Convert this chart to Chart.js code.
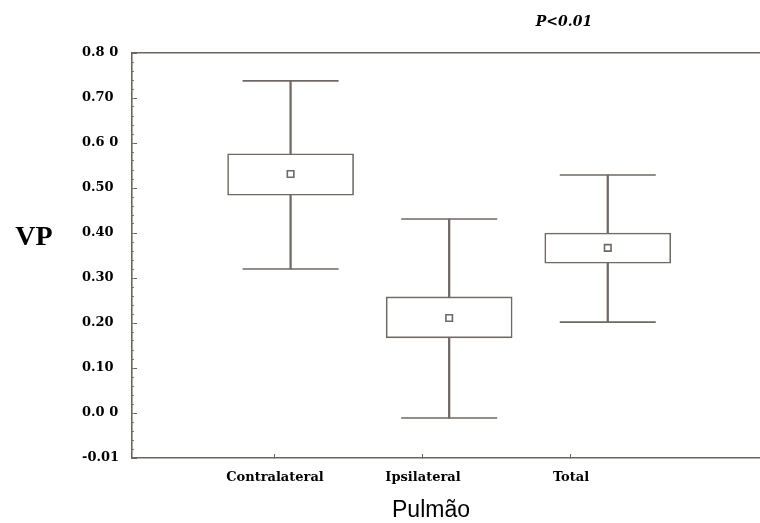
<!DOCTYPE html>
<html>
<head>
<meta charset="utf-8">
<script src="https://cdn.jsdelivr.net/npm/chart.js@4.4.0/dist/chart.umd.min.js"></script>
<style>
  html, body { margin: 0; padding: 0; background: #fff; }
  #wrap { position: relative; width: 760px; height: 523px; }
  .lbl { position: absolute; line-height: 1; white-space: nowrap; transform: translate(-50%, -50%); color: #000; }
  #vp { left: 34px; top: 236px; font: bold 28px 'Liberation Serif', serif; }
  #pval { left: 564px; top: 21px; font: italic bold 14px 'DejaVu Serif', serif; }
  #xtitle { left: 431px; top: 509px; font: 23px 'Liberation Sans', sans-serif; }
</style>
</head>
<body>
<div id="wrap">
  <canvas id="chart" width="760" height="523"></canvas>
  <div class="lbl" id="vp">VP</div>
  <div class="lbl" id="pval">P&lt;0.01</div>
  <div class="lbl" id="xtitle">Pulmão</div>
</div>
<script>
const categories = ['Contralateral', 'Ipsilateral', 'Total'];
const whiskerMax = [0.738, 0.431, 0.529];
const boxTop = [0.576, 0.258, 0.400];
const means = [0.531, 0.211, 0.367];
const boxBottom = [0.484, 0.167, 0.333];
const whiskerMin = [0.320, -0.011, 0.202];
const yTickLabels = ['-0.01', '0.0 0', '0.10', '0.20', '0.30', '0.40', '0.50', '0.6 0', '0.70', '0.8 0'];

const ink = '#6f6864';
const axisInk = '#6b6561';
const tickFont = { family: "'DejaVu Serif', serif", size: 13, weight: 'bold' };

const pos = categories.map((c, i) => i + 1);

// fixed axis size, no extra label padding pushed into the layout
const fixSize = (key, size) => s => {
  s[key] = size;
  s.paddingLeft = s.paddingRight = s.paddingTop = s.paddingBottom = 0;
};

new Chart(document.getElementById('chart'), {
  data: {
    datasets: [
      {
        type: 'bar',
        order: 3,
        grouped: false,
        barThickness: 1.6,
        backgroundColor: ink,
        borderWidth: 0,
        data: pos.map((x, i) => ({ x, y: [whiskerMin[i], whiskerMax[i]] })),
      },
      {
        type: 'bar',
        order: 2,
        grouped: false,
        barThickness: 126,
        backgroundColor: '#fff',
        borderColor: ink,
        borderWidth: 1.6,
        borderSkipped: false,
        data: pos.map((x, i) => ({ x, y: [boxBottom[i], boxTop[i]] })),
      },
      {
        type: 'line',
        order: 1,
        showLine: false,
        pointStyle: 'line',
        pointRadius: 48,
        pointHoverRadius: 48,
        borderColor: ink,
        borderWidth: 1.6,
        data: pos.flatMap((x, i) => [{ x, y: whiskerMax[i] }, { x, y: whiskerMin[i] }]),
      },
      {
        type: 'line',
        order: 0,
        showLine: false,
        pointStyle: 'rect',
        pointRadius: 4.6,
        pointHoverRadius: 4.6,
        backgroundColor: '#fff',
        borderColor: ink,
        borderWidth: 1.6,
        data: pos.map((x, i) => ({ x, y: means[i] })),
      },
    ],
  },
  options: {
    responsive: false,
    animation: false,
    events: [],
    layout: { autoPadding: false, padding: { left: 82, top: 53, right: 0, bottom: 0 } },
    plugins: { legend: { display: false }, tooltip: { enabled: false } },
    scales: {
      x: { type: 'linear', display: false, offset: false, min: 0, max: 3.96 },
      xl: {
        type: 'linear',
        position: 'bottom',
        offset: false,
        min: 0.034,
        max: 4.277,
        afterBuildTicks: s => (s.ticks = pos.map(v => ({ value: v }))),
        afterFit: fixSize('height', 65),
        border: { color: axisInk, width: 1.6 },
        grid: { drawOnChartArea: false, offset: false, tickLength: -4, color: axisInk, lineWidth: 1 },
        ticks: {
          autoSkip: false,
          maxRotation: 0,
          padding: 16,
          color: '#000',
          font: tickFont,
          callback: v => categories[v - 1] || '',
        },
      },
      xt: {
        type: 'linear',
        position: 'top',
        min: 0,
        max: 1,
        afterFit: fixSize('height', 0),
        border: { color: axisInk, width: 1.6 },
        grid: { display: false },
        ticks: { display: false },
      },
      y: {
        type: 'linear',
        position: 'left',
        weight: 1,
        min: -0.1,
        max: 0.8,
        afterFit: fixSize('width', 50),
        border: { color: axisInk, width: 1.6 },
        grid: { drawOnChartArea: false, tickLength: -5, color: axisInk, lineWidth: 1 },
        ticks: {
          stepSize: 0.1,
          autoSkip: false,
          crossAlign: 'far',
          color: '#000',
          font: tickFont,
          callback: (v, i) => yTickLabels[i],
        },
      },
      ym: {
        type: 'linear',
        position: 'left',
        weight: 0,
        min: -0.1,
        max: 0.8,
        afterFit: fixSize('width', 0),
        border: { display: false },
        grid: { drawOnChartArea: false, tickLength: -2, color: '#8a8480', lineWidth: 1 },
        ticks: { stepSize: 0.02, display: false },
      },
    },
  },
});
</script>
</body>
</html>
